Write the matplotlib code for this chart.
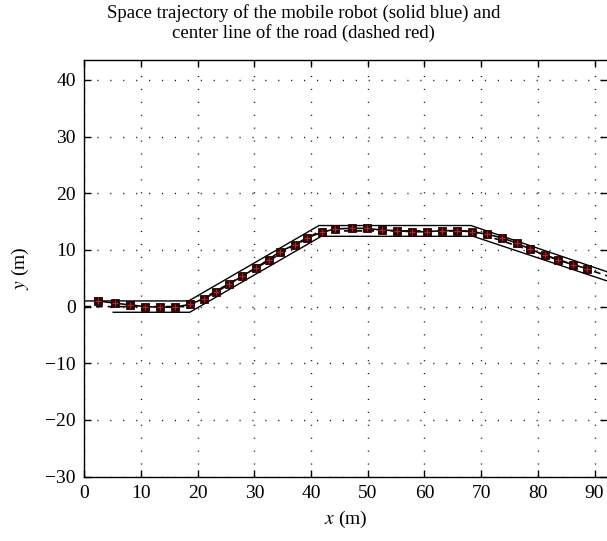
import matplotlib
matplotlib.use("Agg")
import matplotlib.pyplot as plt

# road edges (m)
upper_x = [0.0, 18.4, 41.4, 68.2, 95.0]
upper_y = [1.0, 1.0, 14.3, 14.3, 5.2]
lower_x = [5.1, 18.6, 41.8, 68.6, 95.0]
lower_y = [-1.0, -1.0, 12.4, 12.4, 3.6]

# center line of the road
center_x = [0.0, 18.5, 41.6, 68.4, 95.0]
center_y = [0.0, 0.0, 13.35, 13.35, 4.5]

# sampled robot trajectory
traj_x = [2.5, 5.4, 8.1, 10.7, 13.4, 16.0, 18.6, 21.1, 23.2, 25.6, 27.9,
          30.2, 32.5, 34.5, 37.1, 39.2, 41.9, 44.2, 47.2, 49.8, 52.5, 55.1,
          57.8, 60.4, 63.1, 65.7, 68.4, 71.0, 73.7, 76.3, 78.7, 81.2, 83.6,
          86.2, 88.7]
traj_y = [1.0, 0.6, 0.3, 0.0, -0.1, -0.1, 0.4, 1.4, 2.5, 4.0, 5.4,
          6.8, 8.3, 9.7, 10.9, 12.1, 13.1, 13.7, 13.8, 13.8, 13.5, 13.4,
          13.2, 13.2, 13.4, 13.4, 13.2, 12.8, 12.1, 11.2, 10.1, 9.1, 8.2,
          7.4, 6.7]

xticks = [0, 10, 20, 30, 40, 50, 60, 70, 80, 90]
yticks = [-30, -20, -10, 0, 10, 20, 30, 40]

plt.rcParams["font.family"] = ["Liberation Serif", "DejaVu Serif"]
plt.rcParams["mathtext.fontset"] = "stix"

fig = plt.figure(figsize=(6.07, 5.41), dpi=100)
ax = fig.add_axes([0.1389, 0.1189, 0.8611, 0.7702])

ax.plot(upper_x, upper_y, color="black", lw=1.0, zorder=3)
ax.plot(lower_x, lower_y, color="black", lw=1.0, zorder=3)
ax.plot(center_x, center_y, color="black", lw=1.2, ls=(0, (4, 3)), zorder=3)
ax.plot(traj_x, traj_y, color="#1a0505", lw=1.2, zorder=3)
ax.plot(traj_x, traj_y, ls="none", marker="s", ms=5.4, mew=0.6,
        mec="#1a0505", mfc="#2a0808", zorder=4)
ax.plot(traj_x, traj_y, color="#d01818", ls="none", marker="+", ms=3.8,
        mew=0.8, zorder=5)

ax.set_xlim(0, 92.2)
ax.set_ylim(-30, 43.5)
ax.set_xticks(xticks)
ax.set_yticks(yticks)
ax.set_yticklabels(["\u221230", "\u221220", "\u221210", "0", "10", "20", "30", "40"])
ax.tick_params(direction="in", length=5, width=1.0, top=True, right=True,
               labelsize=14, pad=6)
ax.grid(True, color="#111111", lw=1.0, linestyle=(0, (0.8, 8.5)))
for s in ax.spines.values():
    s.set_linewidth(1.0)
ax.spines["right"].set_visible(False)

ax.set_xlabel("$x$ (m)", fontsize=14, labelpad=5)
ax.set_ylabel("$y$ (m)", fontsize=14, labelpad=10)
fig.text(0.5, 1 - 4 / 541, "Space trajectory of the mobile robot (solid blue) and\n"
         "center line of the road (dashed red)", fontsize=13.5, ha="center",
         va="top", linespacing=1.15)

fig.savefig("out.png", dpi=100)
